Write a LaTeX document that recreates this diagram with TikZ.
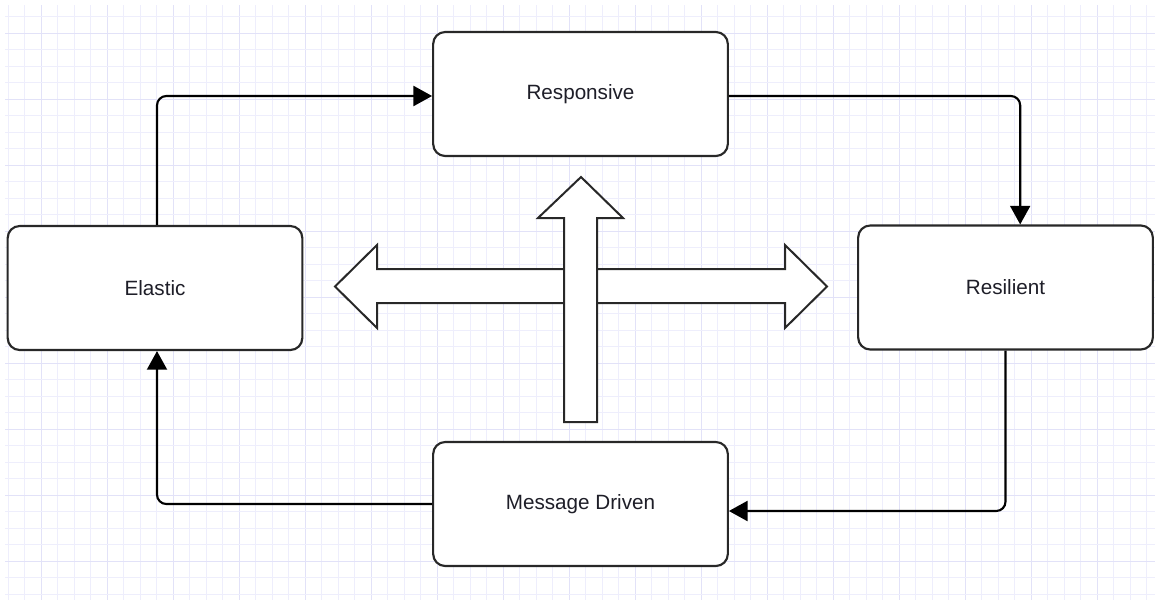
\documentclass[tikz,border=0pt]{standalone}
\usepackage{fontspec}
\setmainfont{Liberation Sans}
\usetikzlibrary{arrows.meta}
\definecolor{gridminor}{RGB}{238,238,252}
\definecolor{gridmajor}{RGB}{226,226,248}
\definecolor{edge}{RGB}{40,40,40}
\definecolor{txt}{RGB}{30,30,40}
\begin{document}
\begin{tikzpicture}[x=0.75pt,y=-0.75pt,
  box/.style={draw=edge, line width=1.6pt, rounded corners=9pt, fill=white,
    minimum width=221pt, minimum height=93pt, inner sep=0pt,
    font=\fontsize{15.5pt}{18pt}\selectfont, text=txt},
  conn/.style={draw=black, line width=1.6pt, rounded corners=7pt,
    -{Triangle[length=14pt,width=15pt]}},
  blockarrow/.style={draw=edge, line width=1.5pt, fill=white, line join=miter}]
\useasboundingbox (0,0) rectangle (1155,600);
\fill[white] (0,0) rectangle (1155,600);
% grid
\begin{scope}
\clip (5,5) rectangle (1155,600);
\foreach \i in {0,...,70} {
  \pgfmathsetmacro\xx{8.3+16.5*\i}
  \pgfmathtruncatemacro\m{mod(\i,4)}
  \ifnum\m=2
    \draw[gridmajor, line width=0.9pt] (\xx,0) -- (\xx,600);
  \else
    \draw[gridminor, line width=0.8pt] (\xx,0) -- (\xx,600);
  \fi
}
\foreach \j in {0,...,36} {
  \pgfmathsetmacro\yy{16.7+16.5*\j}
  \pgfmathtruncatemacro\m{mod(\j,4)}
  \ifnum\m=1
    \draw[gridmajor, line width=0.9pt] (0,\yy) -- (1155,\yy);
  \else
    \draw[gridminor, line width=0.8pt] (0,\yy) -- (1155,\yy);
  \fi
}
\end{scope}
% nodes
\node[box] (resp) at (580.5,94) {Responsive};
\node[box] (elas) at (155,288) {Elastic};
\node[box] (resi) at (1005.5,287.5) {Resilient};
\node[box] (msg) at (580.5,504) {Message Driven};
% connectors
\draw[conn] ([xshift=1.5pt]elas.north) |- ([yshift=-1.5pt]resp.west);
\draw[conn] ([yshift=-1.5pt]resp.east) -| ([xshift=11pt]resi.north);
\draw[conn] (resi.south) |- ([yshift=-5.25pt]msg.east);
\draw[conn] (msg.west) -| ([xshift=1.5pt]elas.south);
% block arrows
\draw[blockarrow] (335,286.5) -- (377,245) -- (377,269) -- (785,269) -- (785,245)
  -- (827,286.5) -- (785,328) -- (785,303) -- (377,303) -- (377,328) -- cycle;
\draw[blockarrow] (581,177) -- (623,218) -- (597,218) -- (597,422) -- (564,422)
  -- (564,218) -- (538,218) -- cycle;
\end{tikzpicture}
\end{document}
